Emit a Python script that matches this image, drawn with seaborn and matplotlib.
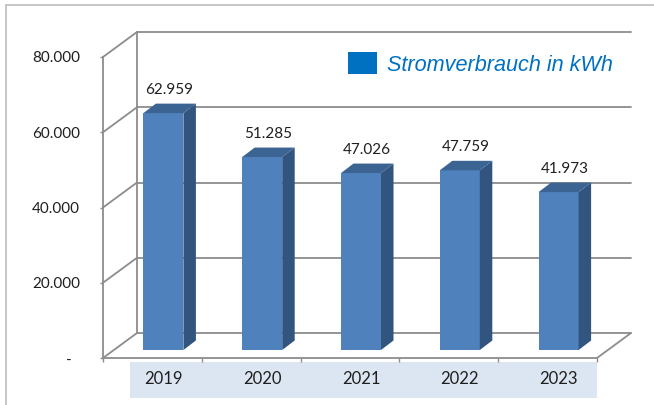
import matplotlib
matplotlib.use('Agg')
import matplotlib.pyplot as plt
import seaborn as sns
import numpy as np
import pandas as pd
from matplotlib.transforms import Affine2D, IdentityTransform
from matplotlib.patches import Polygon, Rectangle, Patch
from matplotlib.lines import Line2D
from matplotlib import font_manager as fm

# ---------------- data ----------------
years = ['2019', '2020', '2021', '2022', '2023']
consumption = [62959, 51285, 47026, 47759, 41973]
data_labels = ['62.959', '51.285', '47.026', '47.759', '41.973']
y_ticks = [0, 20000, 40000, 60000, 80000]
y_tick_labels = ['-  ', '20.000', '40.000', '60.000', '80.000']
legend_label = 'Stromverbrauch in kWh'

# ---------------- style ----------------
FRONT = '#4F81BD'
TOP = '#3C6492'
SIDE = '#32557F'
GRID = '#8C8C8C'
BORDER = '#C3C3C3'
BAND = '#DCE6F2'
TEXT = '#1F1F1F'
LEG = '#0070C0'

sns.set_theme(style='white')
plt.rcParams['font.family'] = ['Lato', 'DejaVu Sans']


def has_font(name):
    try:
        fm.findfont(fm.FontProperties(family=name), fallback_to_default=False)
        return True
    except Exception:
        return False


W, H = 654, 405
fig = plt.figure(figsize=(W / 100, H / 100), dpi=100)
fig.patch.set_facecolor('white')

# front plane of the 3D box
ax = fig.add_axes([103 / W, (H - 358) / H, 494 / W, 301 / H])
ax.patch.set_visible(False)

df = pd.DataFrame({'Jahr': years, 'kWh': consumption})
sns.barplot(data=df, x='Jahr', y='kWh', color=FRONT, saturation=1,
            width=0.405, ax=ax, linewidth=0, zorder=3)
ax.set_xlim(-0.5, len(years) - 0.5)
ax.set_ylim(0, 80000)

# depth offsets (display pixels)
BAR_F = (11.0, 8.0)
BAR_B = (23.5, 17.5)
WALL = (34.0, 25.0)


def P(x, v, d=(0, 0)):
    px, py = ax.transData.transform((x, v))
    return (px + d[0], py + d[1])


def seg(p, q, **kw):
    ln = Line2D([p[0], q[0]], [p[1], q[1]], transform=IdentityTransform(),
                color=GRID, lw=1.3, clip_on=False, zorder=1, **kw)
    ax.add_line(ln)


# back wall / floor
x_lo, x_hi = -0.5, len(years) - 0.5
for v in y_ticks:
    seg(P(x_lo, v), P(x_lo, v, WALL))
    seg(P(x_lo, v, WALL), P(x_hi, v, WALL))
seg(P(x_lo, 0, WALL), P(x_lo, 80000, WALL))
seg(P(x_hi, 0), P(x_hi, 0, WALL))

# 3D bars
for p in list(ax.patches):
    p.set_transform(ax.transData + Affine2D().translate(*BAR_F))
    p.set_zorder(3)
    x0 = p.get_x()
    x1 = x0 + p.get_width()
    h = p.get_height()
    side = [P(x1, 0, BAR_F), P(x1, h, BAR_F), P(x1, h, BAR_B), P(x1, 0, BAR_B)]
    top = [P(x0, h, BAR_F), P(x1, h, BAR_F), P(x1, h, BAR_B), P(x0, h, BAR_B)]
    ax.add_patch(Polygon(side, closed=True, transform=IdentityTransform(),
                         facecolor=SIDE, edgecolor='none', clip_on=False, zorder=3))
    ax.add_patch(Polygon(top, closed=True, transform=IdentityTransform(),
                         facecolor=TOP, edgecolor='none', clip_on=False, zorder=3))

# data labels
for i, (v, lbl) in enumerate(zip(consumption, data_labels)):
    ax.annotate(lbl, xy=(i, v), xytext=(17 * 0.72, 27 * 0.72),
                textcoords='offset points', ha='center', va='baseline',
                fontsize=11, color=TEXT, zorder=4, annotation_clip=False)

# axes, spines, ticks
for s in ['top', 'right']:
    ax.spines[s].set_visible(False)
for s in ['left', 'bottom']:
    ax.spines[s].set_color(GRID)
    ax.spines[s].set_linewidth(1.3)
    ax.spines[s].set_zorder(1)

ax.set_yticks(y_ticks)
ax.set_yticklabels(y_tick_labels)
ax.tick_params(axis='y', length=2.2, width=1.0, color=GRID, pad=14.4,
               labelsize=11, labelcolor=TEXT, left=True)
ax.set_xticks(range(len(years)))
ax.set_xticklabels(years)
ax.set_xticks(np.arange(-0.5, len(years), 1.0), minor=True)
ax.tick_params(axis='x', which='major', length=0, pad=9, labelsize=12,
               labelcolor=TEXT)
ax.tick_params(axis='x', which='minor', length=3, width=1.0, color=GRID,
               bottom=True, direction='out')
ax.set_xlabel('')
ax.set_ylabel('')
ax.grid(False)
# category labels sit on the bar plane (shifted right like the bars)
for lab in ax.get_xticklabels():
    lab.set_transform(lab.get_transform() + Affine2D().translate(BAR_F[0], 0))

# category band
fig.add_artist(Rectangle((130 / W, (H - 398) / H), 467 / W, 36 / H,
                         transform=fig.transFigure, facecolor=BAND,
                         edgecolor='none', zorder=-1))

# outer border (top and left)
fig.add_artist(Line2D([6 / W, 1.0], [(H - 5) / H, (H - 5) / H],
                      transform=fig.transFigure, color=BORDER, lw=1.3))
fig.add_artist(Line2D([6 / W, 6 / W], [0, (H - 5) / H],
                      transform=fig.transFigure, color=BORDER, lw=1.3))

# legend
if has_font('Liberation Sans Narrow'):
    leg_family = ['Liberation Sans Narrow', 'DejaVu Sans']
    leg_size = 19.5
else:
    leg_family = ['Liberation Sans', 'DejaVu Sans']
    leg_size = 15.6
fs_px = leg_size / 0.72
leg = fig.legend(handles=[Patch(facecolor=LEG, edgecolor='none')],
                 labels=[legend_label], loc='center left',
                 bbox_to_anchor=(348 / W, (H - 64) / H),
                 frameon=False, borderpad=0, borderaxespad=0,
                 handlelength=29 / fs_px, handleheight=25 / fs_px,
                 handletextpad=10 / fs_px,
                 prop={'family': leg_family, 'style': 'italic', 'size': leg_size})
for t in leg.get_texts():
    t.set_color(LEG)

fig.savefig('out.png', dpi=100)
